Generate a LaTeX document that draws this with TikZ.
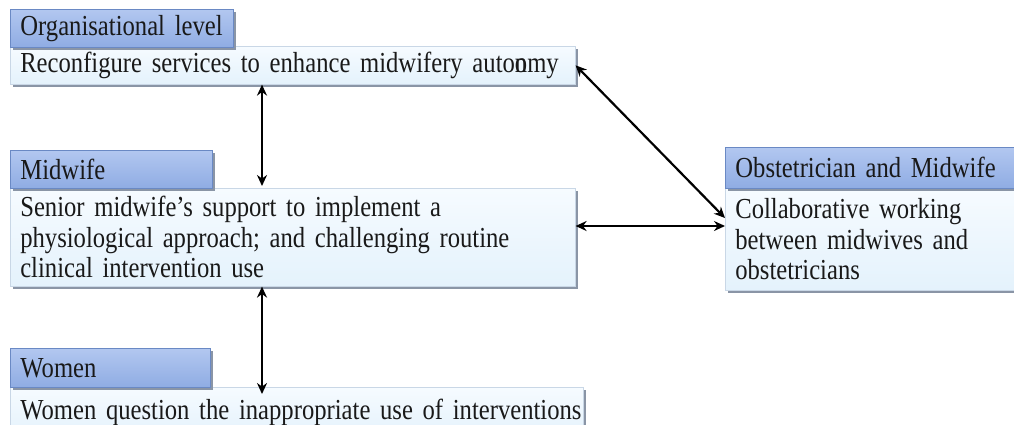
\documentclass[tikz,border=0pt]{standalone}
\usepackage{fontspec}
\setmainfont[FakeStretch=0.85]{Liberation Serif}
\usetikzlibrary{arrows.meta,calc}

\definecolor{hdrtop}{HTML}{B2C7F0}
\definecolor{hdrbot}{HTML}{8FACE3}
\definecolor{hdrline}{HTML}{6A89C4}
\definecolor{bodytop}{HTML}{F6FBFF}
\definecolor{bodybot}{HTML}{E4F2FC}
\definecolor{bodyline}{HTML}{C9D7E6}
\definecolor{shade}{HTML}{8A95A6}

% box text: large serif with tight word spacing
\newcommand\boxtextfont{\fontsize{29}{30.5}\selectfont
  \spaceskip=4.6pt plus 1pt minus 1pt\relax}

\tikzset{
  boxbase/.style={anchor=north west, inner xsep=10pt, inner ysep=0pt, align=left,
    font=\boxtextfont, text=black!90,
    preaction={fill=shade, transform canvas={xshift=2.5pt, yshift=-2.5pt}}},
  hdr/.style={boxbase, draw=hdrline, line width=0.8pt, top color=hdrtop, bottom color=hdrbot},
  body/.style={boxbase, draw=bodyline, line width=0.6pt, top color=bodytop, bottom color=bodybot},
  link/.style={line width=2.2pt, black, {Stealth[length=11pt,width=10pt]}-{Stealth[length=11pt,width=10pt]}}
}

\begin{document}
\begin{tikzpicture}[x=1pt, y=-1pt]
  \useasboundingbox (0,0) rectangle (1014,424);

  % organisational level
  \node[body, text width=545pt, minimum height=38pt] (orgB) at (10,46)
    {\mbox{Reconfigure services to enhance midwifery auto\makebox[0pt][l]{n}omy}};
  \node[hdr, text width=203pt, minimum height=38pt] (orgH) at (10,9)
    {\mbox{Organisational level}};

  % midwife
  \node[body, text width=545pt, minimum height=98pt] (midB) at (10,188)
    {Senior midwife’s support to implement a\\
     physiological approach; and challenging routine\\
     clinical intervention use};
  \node[hdr, text width=182pt, minimum height=38pt] (midH) at (10,150)
    {\mbox{Midwife}};

  % women
  \node[body, text width=553pt, minimum height=50pt] (wB) at (10,387)
    {\mbox{Women question the inappropriate use of interventions}\\[0pt]};
  \node[hdr, text width=180pt, minimum height=39pt] (wH) at (10,348)
    {\mbox{Women}};

  % obstetrician and midwife
  \node[body, text width=280pt, minimum height=102pt] (obB) at (725,188)
    {Collaborative working\\ between midwives and\\ obstetricians};
  \node[hdr, text width=280pt, minimum height=41pt] (obH) at (725,147)
    {\mbox{Obstetrician and Midwife}};

  % connectors
  \coordinate (vx) at (262,0);
  \coordinate (hy) at (0,226);
  \coordinate (dy) at (0,218);
  \draw[link, shorten >=2pt] (orgB.south -| vx) -- (midB.north -| vx);
  \draw[link, shorten >=-7pt] (midB.south -| vx) -- (wB.north -| vx);
  \draw[link] (midB.east |- hy) -- (obB.west |- hy);
  \draw[link] (orgB.east) -- (obB.west |- dy);
\end{tikzpicture}
\end{document}
